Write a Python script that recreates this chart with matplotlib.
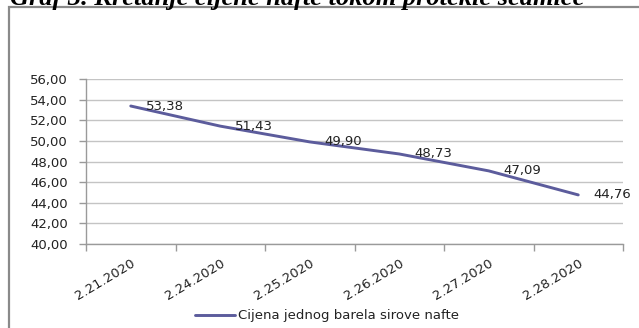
import matplotlib
matplotlib.use("Agg")
import matplotlib.pyplot as plt
from matplotlib.patches import Rectangle
from matplotlib.ticker import FixedLocator, FuncFormatter

dates = ["2.21.2020", "2.24.2020", "2.25.2020", "2.26.2020", "2.27.2020", "2.28.2020"]
prices = [53.38, 51.43, 49.90, 48.73, 47.09, 44.76]
series_name = "Cijena jednog barela sirove nafte"
title = "Graf 3. Kretanje cijene nafte tokom protekle sedmice"
yticks = [40, 42, 44, 46, 48, 50, 52, 54, 56]

W, H = 639, 328
fig = plt.figure(figsize=(W / 100, H / 100), dpi=100)
fig.patch.set_facecolor("white")

# outer frame
fig.patches.append(Rectangle((8.5 / W, -0.5), 2.0, 1 - 7 / H + 0.5,
                             transform=fig.transFigure, fill=False,
                             edgecolor="#8a8a8a", linewidth=1.6))

# title (clipped at the top edge, as in the source image)
fig.text(10 / W, 1 - 4.5 / H, title, fontfamily="Liberation Serif",
         fontweight="bold", fontstyle="italic", fontsize=19,
         ha="left", va="baseline", color="black")

ax = fig.add_axes([86 / W, 1 - 244 / H, (623 - 86) / W, (244 - 79) / H])
x = list(range(len(dates)))
line_color = "#5c5c9c"
ln, = ax.plot(x, prices, color=line_color, linewidth=2.1, label=series_name,
              solid_capstyle="round")

for xi, v in zip(x, prices):
    ax.annotate(f"{v:.2f}".replace(".", ","), (xi, v), xytext=(10.8, 0),
                textcoords="offset points", ha="left", va="center",
                fontsize=9.5, color="#222222")

ax.set_xlim(-0.5, len(dates) - 0.5)
ax.set_ylim(yticks[0], yticks[-1])
ax.yaxis.set_major_locator(FixedLocator(yticks))
ax.yaxis.set_major_formatter(FuncFormatter(lambda v, p: f"{v:.2f}".replace(".", ",")))
ax.grid(axis="y", color="#c4c4c4", linewidth=1.0)
ax.set_axisbelow(True)

ax.set_xticks(x)
ax.set_xticklabels(dates, rotation=31, ha="right", va="top", rotation_mode="anchor")
ax.set_xticks([i - 0.5 for i in range(len(dates) + 1)], minor=True)
ax.tick_params(axis="x", which="major", length=0, pad=9, labelsize=9.5, labelcolor="#222222")
ax.tick_params(axis="x", which="minor", length=5, width=1, color="#9a9a9a", direction="out")
ax.tick_params(axis="y", length=5, width=1, color="#9a9a9a", pad=8, labelsize=9.5,
               labelcolor="#222222")

for s in ["top", "right"]:
    ax.spines[s].set_visible(False)
for s in ["left", "bottom"]:
    ax.spines[s].set_color("#9a9a9a")
    ax.spines[s].set_linewidth(1.0)

fig.legend(handles=[ln], loc="center", bbox_to_anchor=(327 / W, 1 - 316 / H),
           frameon=False, fontsize=9.5, handlelength=3.0, handletextpad=0.2,
           labelcolor="#222222")

fig.savefig("out.png", dpi=100)
